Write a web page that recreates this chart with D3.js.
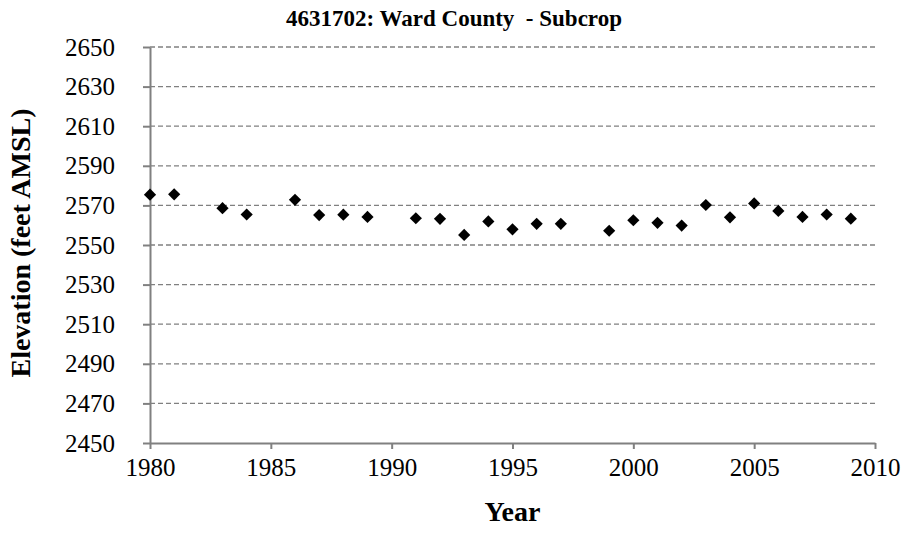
<!DOCTYPE html>
<html>
<head>
<meta charset="utf-8">
<script src="https://cdn.jsdelivr.net/npm/d3@7"></script>
<style>
  body { margin: 0; background: #fff; }
  svg { font-family: "Liberation Serif", "Times New Roman", serif; }
</style>
</head>
<body>
<svg id="chart" width="908" height="550"></svg>
<script>
// data
const years = [1980, 1981, 1983, 1984, 1986, 1987, 1988, 1989, 1991, 1992, 1993, 1994, 1995,
  1996, 1997, 1999, 2000, 2001, 2002, 2003, 2004, 2005, 2006, 2007, 2008, 2009];
const elevations = [2575.4, 2575.6, 2568.6, 2565.4, 2572.8, 2565.1, 2565.3, 2564.2, 2563.5, 2563.2, 2555.1, 2561.9, 2557.9,
  2560.7, 2560.7, 2557.2, 2562.5, 2561.2, 2559.8, 2570.2, 2564.0, 2571.0, 2567.2, 2564.2, 2565.4, 2563.3];
const xTicks = [1980, 1985, 1990, 1995, 2000, 2005, 2010];
const yTicks = [2450, 2470, 2490, 2510, 2530, 2550, 2570, 2590, 2610, 2630, 2650];

const data = years.map((d, i) => ({ year: d, elev: elevations[i] }));

const svg = d3.select("#chart");
const margin = { top: 47, right: 33, bottom: 107, left: 150 };
const width = 908 - margin.left - margin.right;
const height = 550 - margin.top - margin.bottom;

const g = svg.append("g").attr("transform", `translate(${margin.left},${margin.top})`);

const x = d3.scaleLinear().domain([1980, 2010]).range([0, width]);
const y = d3.scaleLinear().domain([2450, 2650]).range([height, 0]);

// dashed grid lines
g.append("g")
  .attr("class", "y-grid")
  .selectAll("line")
  .data(yTicks.slice(1))
  .enter().append("line")
  .attr("x1", 0)
  .attr("x2", width)
  .attr("y1", d => y(d))
  .attr("y2", d => y(d))
  .attr("stroke", "#808080")
  .attr("stroke-width", 1.3)
  .attr("stroke-dasharray", "5 3");

// y axis
const yAxis = g.append("g")
  .call(d3.axisLeft(y).tickValues(yTicks).tickSize(7).tickSizeOuter(0).tickPadding(28).tickFormat(d3.format("d")));

// x axis
const xAxis = g.append("g")
  .attr("transform", `translate(0,${height})`)
  .call(d3.axisBottom(x).tickValues(xTicks).tickSize(6).tickSizeOuter(0).tickPadding(9).tickFormat(d3.format("d")));

[xAxis, yAxis].forEach(ax => {
  ax.select(".domain").attr("stroke", "#808080").attr("stroke-width", 2);
  ax.selectAll(".tick line").attr("stroke", "#808080").attr("stroke-width", 2);
  ax.selectAll(".tick text")
    .attr("fill", "#000")
    .style("font-family", "'Liberation Serif', 'Times New Roman', serif")
    .style("font-size", "25px");
});

// diamond markers
const diamond = d3.symbol().type(d3.symbolDiamond2).size(95);
g.selectAll(".dot")
  .data(data)
  .enter().append("path")
  .attr("class", "dot")
  .attr("transform", d => `translate(${x(d.year)},${y(d.elev)})`)
  .attr("d", diamond)
  .attr("fill", "#000");

// title
svg.append("text")
  .attr("x", 454)
  .attr("y", 26)
  .attr("text-anchor", "middle")
  .style("font-size", "23px")
  .style("font-weight", "bold")
  .style("white-space", "pre")
  .text("4631702: Ward County  - Subcrop");

// axis titles
svg.append("text")
  .attr("x", margin.left + width / 2)
  .attr("y", 521)
  .attr("text-anchor", "middle")
  .style("font-size", "28px")
  .style("font-weight", "bold")
  .text("Year");

svg.append("text")
  .attr("transform", `translate(30,${margin.top + height / 2 - 2}) rotate(-90)`)
  .attr("text-anchor", "middle")
  .style("font-size", "28px")
  .style("font-weight", "bold")
  .text("Elevation (feet AMSL)");
</script>
</body>
</html>
